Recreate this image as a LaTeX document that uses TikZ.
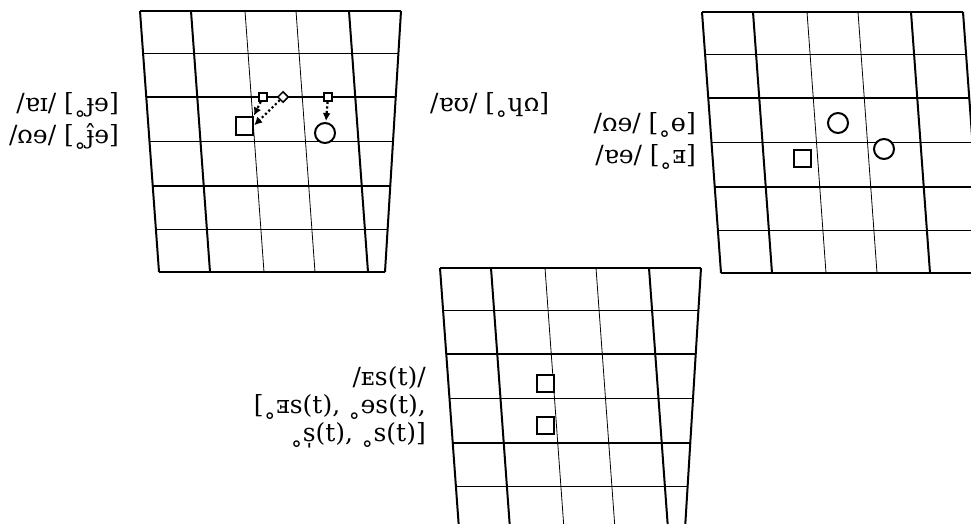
\documentclass[tikz,border=0pt]{standalone}
\usepackage{fontspec}
\setmainfont{DejaVu Serif}
\usepackage{graphicx}
\usetikzlibrary{
  shapes.geometric,
  arrows.meta,
  positioning
}
\newcommand{\turned}[1]{\rotatebox[origin=c]{180}{#1}}

\begin{document}
\begin{tikzpicture}[
  x=1pt, y=-1pt,
  font=\fontsize{25}{32}\selectfont,
  pics/chart/.style={code={
    \foreach \t/\w in {0/2pt, 51/2pt, 105/0.8pt,
        156/0.8pt, 209/2pt}
      \draw[line width=\w] (\t,0) -- (\t+19,261);
    \draw[line width=2pt] (261,0) -- (#1,261);
    \foreach \y/\w in {0/2pt, 42/0.8pt, 86/2pt, 130/0.8pt,
        175/2pt, 218/0.8pt, 261/2pt}
      \draw[line width=\w] ({19*\y/261},\y) -- ({261+(#1-261)*\y/261},\y);
  }},
  bigsq/.style={
    draw, line width=2pt, fill=white,
    minimum size=17pt, inner sep=0pt},
  bigcirc/.style={
    circle, draw, line width=2pt, fill=white,
    minimum size=20pt, inner sep=0pt},
  smallsq/.style={
    draw, line width=1.5pt, fill=white,
    minimum size=8pt, inner sep=0pt},
  smalldia/.style={
    diamond, draw, line width=1.5pt, fill=white,
    minimum size=11pt, inner sep=0pt},
  dotarrow/.style={
    -{Latex[length=8pt, width=8pt]},
    line width=2.2pt, dash pattern=on 2.2pt off 2.4pt,
    shorten >=1pt},
  label/.style={align=right, anchor=east, inner sep=0pt}
]
\useasboundingbox (0,0) rectangle (971,524);

% three charts
\pic at (140,11)  {chart=245};
\pic at (702,12)  {chart=280};
\pic at (440,268) {chart=245};

% first chart
\node[bigsq]    (sqA)  at (244,126) {};
\node[bigcirc]  (ciA)  at (325,133) {};
\node[smallsq]  (ptA)  at (263,97)  {};
\node[smalldia] (ptB)  at (283,97)  {};
\node[smallsq]  (ptC)  at (328,97)  {};

\draw[dotarrow] (ptA) -- (sqA.north east);
\draw[dotarrow] (ptB) -- (sqA.east);
\draw[dotarrow] (ptC) -- (ciA);

\node[label] (labA) at (119,121)
  {/ɐɪ/ [˳ɟɘ]\\/\turned{ʊ}ɘ/ [˳ɟ̂ɘ]};
\node[label, anchor=west] (labB) at (430,105)
  {/ɐʊ/ [˳ɥ\turned{ʊ}]};

% second chart
\node[bigcirc] (ciB) at (838,123) {};
\node[bigcirc] (ciC) at (884,149) {};
\node[bigsq]   (sqB) at (802,158) {};

\node[label] (labC) at (696,141)
  {/\turned{ʊ}ɘ/ [˳ɵ]\\/ɐɘ/ [˳\turned{ᴇ}]};

% third chart
\node[bigsq] (sqC) at (545,383) {};
\node[bigsq] (sqD) at (545,425) {};

\node[label, font=\fontsize{25}{28}\selectfont] (labD) at (426,407)
  {/ᴇs(t)/\\{[}˳\turned{ᴇ}s(t), ˳ɘs(t),\\˳s̩(t), ˳s(t)]};
\end{tikzpicture}
\end{document}
